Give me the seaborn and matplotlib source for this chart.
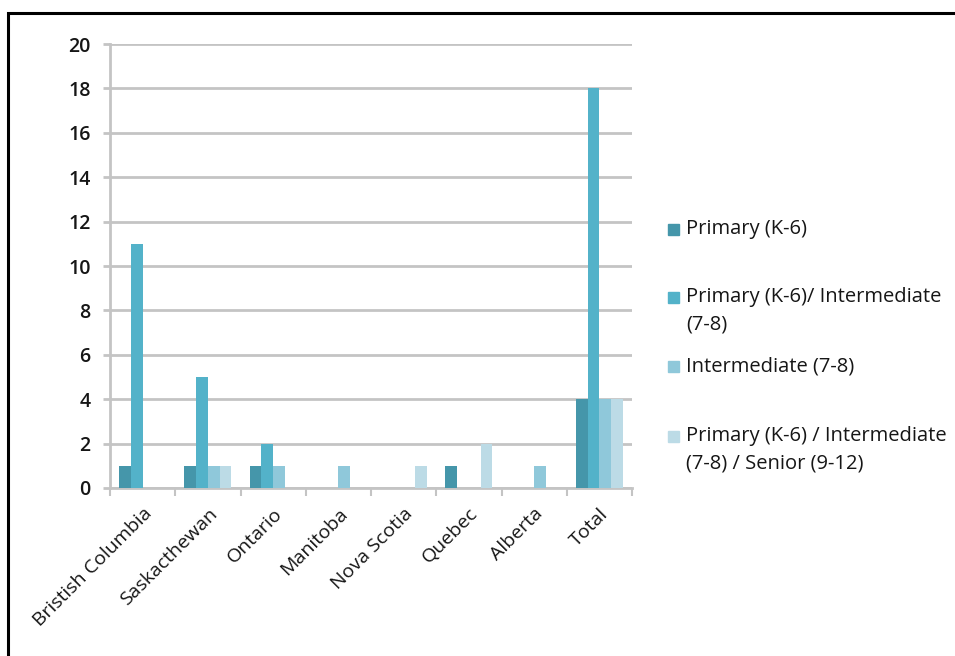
import numpy as np
import pandas as pd
import matplotlib.pyplot as plt
import seaborn as sns
from matplotlib.patches import Rectangle

# -------------------------------
# data
# -------------------------------
provinces = ["Bristish Columbia", "Saskacthewan", "Ontario", "Manitoba",
             "Nova Scotia", "Quebec", "Alberta", "Total"]
levels = ["Primary (K-6)",
          "Primary (K-6)/ Intermediate\n(7-8)",
          "Intermediate (7-8)",
          "Primary (K-6) / Intermediate\n(7-8) / Senior (9-12)"]
primary = [1, 1, 1, 0, 0, 1, 0, 4]
primary_intermediate = [11, 5, 2, 0, 0, 0, 0, 18]
intermediate = [0, 1, 1, 1, 0, 0, 1, 4]
primary_inter_senior = [0, 1, 0, 0, 1, 2, 0, 4]
colors = ["#4596aa", "#53b2c9", "#8fc8da", "#bcdbe6"]

yticks = list(range(0, 21, 2))

df = pd.DataFrame({
    "Province": provinces * 4,
    "Level": np.repeat(levels, len(provinces)),
    "Count": primary + primary_intermediate + intermediate + primary_inter_senior,
})

# -------------------------------
# plot
# -------------------------------
sns.set_style("white")
plt.rcParams["font.family"] = ["Open Sans", "DejaVu Sans"]
txt = "#161616"
grid_c = "#c4c4c4"

fig = plt.figure(figsize=(9.55, 6.56), dpi=100)
ax = fig.add_axes([0.1152, 0.2561, 0.5466, 0.6768])

sns.barplot(data=df, x="Province", y="Count", hue="Level", hue_order=levels,
            palette=colors, width=0.72, saturation=1, linewidth=0, ax=ax,
            legend=False, zorder=3)

ax.set_ylim(0, 20)
ax.set_xlim(-0.5, len(provinces) - 0.5)
ax.set_yticks(yticks)
ax.set_yticklabels([str(t) for t in yticks], fontsize=14, color=txt, fontweight="semibold")
ax.yaxis.grid(True, color=grid_c, linewidth=2, zorder=0)
ax.set_axisbelow(True)
ax.tick_params(axis="y", length=5, width=2, color=grid_c, pad=9, left=True)

# category dividers as ticks under the x axis
ax.set_xticks(np.arange(len(provinces)))
ax.set_xticklabels(provinces, rotation=45, ha="right", rotation_mode="anchor",
                   fontsize=14, color=txt)
ax.tick_params(axis="x", length=0, pad=12)
ax.set_xticks(np.arange(-0.5, len(provinces)), minor=True)
ax.tick_params(axis="x", which="minor", length=6, width=1.5, color=grid_c, bottom=True)

ax.set_xlabel("")
ax.set_ylabel("")
sns.despine(ax=ax, top=True, right=True)
for side in ["left", "bottom"]:
    ax.spines[side].set_color(grid_c)
    ax.spines[side].set_linewidth(2)

# legend drawn by hand, handle next to first line of each label
leg_y = [0.651, 0.547, 0.442, 0.335]
for lab, c, y in zip(levels, colors, leg_y):
    fig.add_artist(Rectangle((0.699, y - 0.009), 0.0115, 0.017,
                             transform=fig.transFigure, color=c))
    first, *rest = lab.split("\n")
    fig.text(0.7185, y, first, fontsize=14.5, color=txt, va="center", ha="left")
    if rest:
        fig.text(0.7185, y - 0.042, rest[0], fontsize=14.5, color=txt, va="center", ha="left")

# outer frame
fig.add_artist(Rectangle((0.0085, -0.05), 1.1, 0.0302 + 1.0,
                         transform=fig.transFigure, fill=False,
                         edgecolor="black", linewidth=2.2))

plt.savefig("out.png", dpi=100)
